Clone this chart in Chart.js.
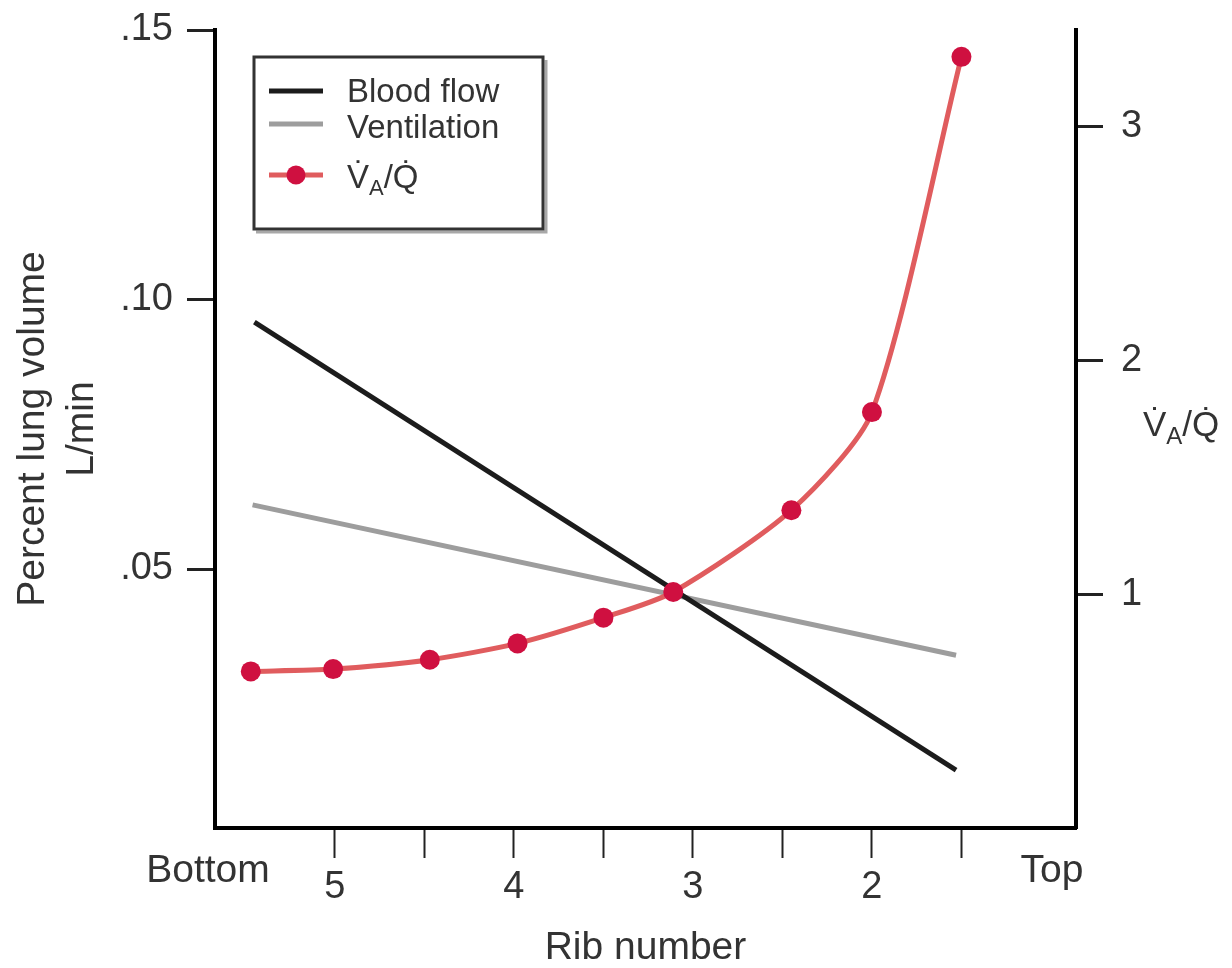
<!DOCTYPE html>
<html>
<head>
<meta charset="utf-8">
<title>Ventilation and blood flow by rib number</title>
<script src="https://cdn.jsdelivr.net/npm/chart.js@4.4.1/dist/chart.umd.min.js"></script>
<style>
  html, body { margin: 0; padding: 0; background: #fff; }
  canvas { display: block; }
</style>
</head>
<body>
<canvas id="myChart" width="1232" height="968"></canvas>
<script>
// rib number runs from the bottom of the lung (left) to the top (right)
var ribTicks = [5, 4.5, 4, 3.5, 3, 2.5, 2, 1.5];
var ribLabels = ['5', '', '4', '', '3', '', '2', ''];
var endLabels = ['Bottom', 'Top'];

var flowTicks = [0.05, 0.10, 0.15];
var flowLabels = ['.05', '.10', '.15'];
var ratioTicks = [1, 2, 3];

// left axis, L/min
var bloodRib = [5.45, 1.53];
var bloodFlow = [0.0958, 0.0127];
var ventRib = [5.46, 1.53];
var ventilation = [0.0619, 0.0340];

// right axis, VA/Q
var ratioRib = [5.47, 5.01, 4.47, 3.98, 3.50, 3.11, 2.45, 2.00, 1.50];
var ratio = [0.67, 0.68, 0.72, 0.79, 0.90, 1.01, 1.36, 1.78, 3.30];

// "_A" = subscript A, \u0307 = dot above
var seriesLabels = ['Blood flow', 'Ventilation', 'V\u0307_A/Q\u0307'];
var ratioTitle = 'V\u0307_A/Q\u0307';

var FONT = "'Liberation Sans', Arial, Helvetica, sans-serif";
var TEXT = '#333';

function pts(xs, ys) {
  return xs.map(function (v, i) { return { x: v, y: ys[i] }; });
}

// draws text where "_X" puts X as a subscript
function drawRich(ctx, text, x, y, size) {
  var parts = text.split('_');
  ctx.font = size + 'px ' + FONT;
  ctx.fillText(parts[0], x, y);
  x += ctx.measureText(parts[0]).width;
  for (var i = 1; i < parts.length; i++) {
    var sub = parts[i].charAt(0), rest = parts[i].slice(1);
    ctx.font = Math.round(size * 0.68) + 'px ' + FONT;
    ctx.fillText(sub, x, y + size * 0.22);
    x += ctx.measureText(sub).width;
    ctx.font = size + 'px ' + FONT;
    ctx.fillText(rest, x, y);
    x += ctx.measureText(rest).width;
  }
}

// no extra room for edge tick labels, the frame is placed by hand
function noPad(s) {
  s.paddingTop = 0;
  s.paddingBottom = 0;
  s.paddingLeft = 0;
  s.paddingRight = 0;
}

var extras = {
  id: 'extras',
  afterDraw: function (chart) {
    var ctx = chart.ctx;
    var area = chart.chartArea;
    ctx.save();

    // legend box
    ctx.lineWidth = 3;
    ctx.strokeStyle = '#a8a8a8';
    ctx.beginPath();
    ctx.moveTo(546, 60); ctx.lineTo(546, 232); ctx.lineTo(256, 232);
    ctx.stroke();
    ctx.strokeStyle = '#333';
    ctx.strokeRect(254, 57, 289, 172);

    var lineY = [91, 124, 175];
    var textY = [102, 138, 188];
    chart.data.datasets.forEach(function (ds, i) {
      ctx.strokeStyle = ds.borderColor;
      ctx.lineWidth = ds.borderWidth;
      ctx.beginPath();
      ctx.moveTo(269, lineY[i]);
      ctx.lineTo(323, lineY[i]);
      ctx.stroke();
      if (ds.pointRadius > 0) {
        ctx.fillStyle = ds.pointBackgroundColor;
        ctx.beginPath();
        ctx.arc(296, lineY[i], ds.pointRadius - 0.5, 0, Math.PI * 2);
        ctx.fill();
      }
      ctx.fillStyle = TEXT;
      ctx.textAlign = 'left';
      ctx.textBaseline = 'alphabetic';
      drawRich(ctx, ds.label, 347, textY[i], 33);
    });

    // right axis title (horizontal)
    ctx.fillStyle = TEXT;
    drawRich(ctx, ratioTitle, 1143, 436, 35);

    // Bottom / Top at the ends of the rib axis
    ctx.font = '39px ' + FONT;
    ctx.textAlign = 'center';
    ctx.fillText(endLabels[0], area.left - 7, 882);
    ctx.fillText(endLabels[1], area.right - 24, 882);
    ctx.restore();
  }
};

var tickFont = { size: 38, family: FONT };

var config = {
  type: 'line',
  data: {
    datasets: [{
      label: seriesLabels[0],
      data: pts(bloodRib, bloodFlow),
      yAxisID: 'y',
      borderColor: '#1c1c1c',
      borderWidth: 5,
      pointRadius: 0,
      order: 2
    }, {
      label: seriesLabels[1],
      data: pts(ventRib, ventilation),
      yAxisID: 'y',
      borderColor: '#9d9d9d',
      borderWidth: 5,
      pointRadius: 0,
      order: 3
    }, {
      label: seriesLabels[2],
      data: pts(ratioRib, ratio),
      yAxisID: 'y1',
      borderColor: '#e05c5e',
      borderWidth: 5,
      pointRadius: 10,
      pointBorderWidth: 0,
      pointBackgroundColor: '#cf1040',
      tension: 0.25,
      order: 1
    }]
  },
  options: {
    responsive: false,
    animation: false,
    devicePixelRatio: 1,
    layout: { padding: { top: 30, left: 0, right: 0, bottom: 0 } },
    plugins: { legend: { display: false }, tooltip: { enabled: false } },
    scales: {
      x: {
        type: 'linear',
        reverse: true,
        min: 0.86,
        max: 5.67,
        afterFit: function (s) { s.height = 140; noPad(s); },
        afterBuildTicks: function (s) {
          s.ticks = ribTicks.map(function (v) { return { value: v }; });
        },
        ticks: {
          callback: function (v) { return ribLabels[ribTicks.indexOf(v)]; },
          autoSkip: false,
          maxRotation: 0,
          padding: 7,
          color: TEXT,
          font: tickFont
        },
        grid: { drawOnChartArea: false, tickLength: 30, tickWidth: 2, tickColor: '#222' },
        border: { display: true, width: 4, color: '#000' },
        title: {
          display: true,
          text: 'Rib number',
          color: TEXT,
          font: { size: 39, family: FONT, lineHeight: 1 },
          padding: { top: 0, bottom: 0 }
        }
      },
      y: {
        position: 'left',
        min: 0.00195,
        max: 0.15,
        afterFit: function (s) { s.width = 215; noPad(s); },
        afterBuildTicks: function (s) {
          s.ticks = flowTicks.map(function (v) { return { value: v }; });
        },
        ticks: {
          callback: function (v) { return flowLabels[flowTicks.indexOf(v)]; },
          padding: 14,
          color: TEXT,
          font: tickFont
        },
        grid: { drawOnChartArea: false, tickLength: 28, tickWidth: 3, tickColor: '#222' },
        border: { display: true, width: 4, color: '#000' },
        title: {
          display: true,
          text: ['Percent lung volume', 'L/min'],
          color: TEXT,
          font: { size: 39, family: FONT, lineHeight: 1.26 },
          padding: { top: 9, bottom: 0 }
        }
      },
      y1: {
        position: 'right',
        min: 0,
        max: 3.415,
        afterFit: function (s) { s.width = 156; noPad(s); },
        afterBuildTicks: function (s) {
          s.ticks = ratioTicks.map(function (v) { return { value: v }; });
        },
        ticks: {
          callback: function (v) { return String(v); },
          padding: 18,
          color: TEXT,
          font: tickFont
        },
        grid: { drawOnChartArea: false, tickLength: 27, tickWidth: 3, tickColor: '#222' },
        border: { display: true, width: 4, color: '#000' }
      }
    }
  },
  plugins: [extras]
};

var myChart = new Chart(document.getElementById('myChart'), config);
</script>
</body>
</html>
